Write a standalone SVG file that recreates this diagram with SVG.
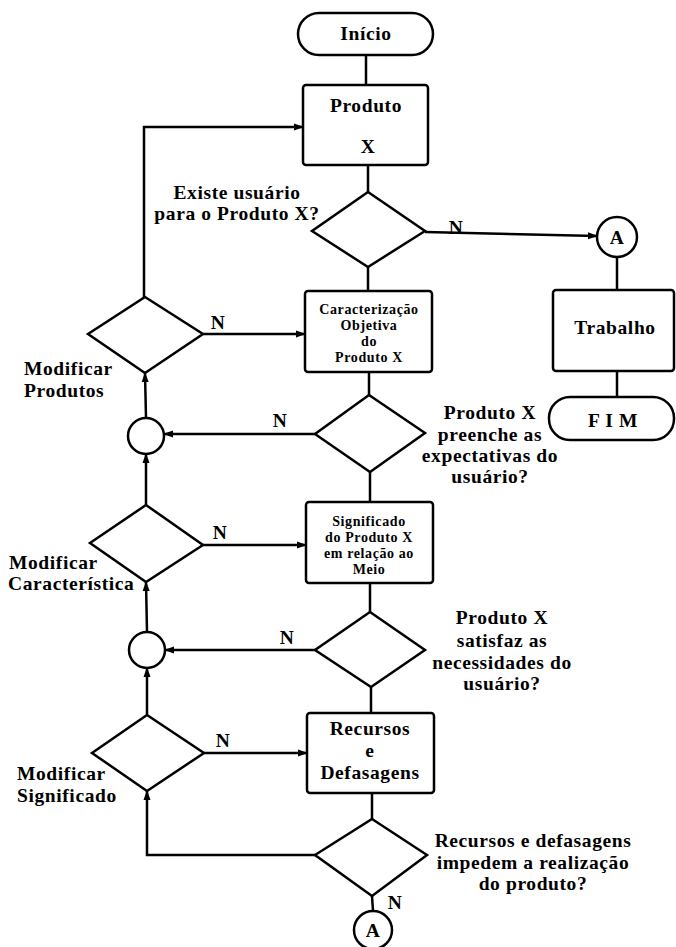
<svg xmlns="http://www.w3.org/2000/svg" width="676" height="947" viewBox="0 0 676 947" font-family="'Liberation Serif', 'DejaVu Serif', serif">
<style>
.s{fill:#fff;stroke:#000;stroke-width:2.5}
.c{fill:none;stroke:#000;stroke-width:2.5}
text{font-family:'Liberation Serif', 'DejaVu Serif', serif;font-weight:bold;fill:#000;text-anchor:middle}
.t{font-size:19.5px;letter-spacing:0.6px}
.sm{font-size:14px;letter-spacing:0.6px}
.l{text-anchor:start}
</style>
<defs>
<marker id="ar" markerUnits="userSpaceOnUse" markerWidth="10" markerHeight="8" refX="9" refY="4" orient="auto">
<path d="M0,0.5 L10,4 L0,7.5 Z" fill="#000"/>
</marker>
</defs>
<g id="connectors">
<line class="c" x1="366" y1="55" x2="366" y2="85"/>
<line class="c" x1="368" y1="165" x2="368" y2="192"/>
<line class="c" x1="368" y1="267" x2="368" y2="291"/>
<line class="c" x1="369" y1="372" x2="369" y2="395"/>
<line class="c" x1="370" y1="472" x2="370" y2="502"/>
<line class="c" x1="370" y1="583" x2="370" y2="612"/>
<line class="c" x1="371" y1="687" x2="371" y2="713"/>
<line class="c" x1="372" y1="793" x2="372" y2="819"/>
<line class="c" x1="372" y1="896" x2="373" y2="911"/>
<line class="c" x1="425" y1="232" x2="597" y2="236" marker-end="url(#ar)"/>
<line class="c" x1="617" y1="257" x2="617" y2="290"/>
<line class="c" x1="617" y1="371" x2="617" y2="397"/>
<polyline class="c" points="144,297 144,127 303,127" marker-end="url(#ar)"/>
<line class="c" x1="203" y1="334" x2="305" y2="334" marker-end="url(#ar)"/>
<line class="c" x1="315" y1="434" x2="164" y2="434" marker-end="url(#ar)"/>
<line class="c" x1="146" y1="418" x2="145" y2="373" marker-end="url(#ar)"/>
<line class="c" x1="146" y1="505" x2="146" y2="454" marker-end="url(#ar)"/>
<line class="c" x1="203" y1="545" x2="306" y2="545" marker-end="url(#ar)"/>
<line class="c" x1="315" y1="650" x2="165" y2="650" marker-end="url(#ar)"/>
<line class="c" x1="147" y1="632" x2="146" y2="582" marker-end="url(#ar)"/>
<line class="c" x1="147" y1="715" x2="147" y2="668" marker-end="url(#ar)"/>
<line class="c" x1="204" y1="753" x2="307" y2="753" marker-end="url(#ar)"/>
<polyline class="c" points="315,855 147,855 147,791" marker-end="url(#ar)"/>
<text class="t" x="456" y="234">N</text>
<text class="t" x="218" y="329">N</text>
<text class="t" x="280" y="427">N</text>
<text class="t" x="220" y="539">N</text>
<text class="t" x="287" y="644">N</text>
<text class="t" x="223" y="747">N</text>
<text class="t" x="395" y="909">N</text>
</g>
<g id="inicio">
<rect class="s" x="298" y="13" width="135" height="42" rx="21"/>
<text class="t" x="366" y="40">Início</text>
</g>
<g id="produto">
<rect class="s" x="303" y="85" width="125" height="80" rx="3"/>
<text class="t" x="366" y="112">Produto</text>
<text class="t" x="368" y="153">X</text>
</g>
<g id="existe">
<polygon class="s" points="368,192 425,231 368,267 312,231"/>
<text class="t" x="237" y="199">Existe usuário</text>
<text class="t" x="237" y="220">para o Produto X?</text>
</g>
<g id="conectorA1">
<circle class="s" cx="617" cy="237" r="20"/>
<text class="t" x="617" y="244">A</text>
</g>
<g id="trabalho">
<rect class="s" x="553" y="290" width="121" height="81" rx="3"/>
<text class="t" x="615" y="334">Trabalho</text>
</g>
<g id="fim">
<rect class="s" x="549" y="397" width="125" height="43" rx="21"/>
<text class="t" x="613" y="427">F I M</text>
</g>
<g id="caracterizacao">
<rect class="s" x="305" y="291" width="127" height="81" rx="3"/>
<text class="sm" x="369" y="314">Caracterização</text>
<text class="sm" x="369" y="330">Objetiva</text>
<text class="sm" x="369" y="346">do</text>
<text class="sm" x="369" y="362">Produto X</text>
</g>
<g id="modificar-produtos">
<polygon class="s" points="145,297 203,334 145,373 88,334"/>
<text class="t l" x="24" y="375">Modificar</text>
<text class="t l" x="24" y="397">Produtos</text>
</g>
<g id="preenche">
<polygon class="s" points="369,395 425,433 370,472 315,434"/>
<text class="t" x="490" y="419">Produto X</text>
<text class="t" x="490" y="441">preenche as</text>
<text class="t" x="490" y="462">expectativas do</text>
<text class="t" x="490" y="483">usuário?</text>
</g>
<g id="juncao1">
<circle class="s" cx="146" cy="436" r="18"/>
</g>
<g id="modificar-caracteristica">
<polygon class="s" points="146,505 203,545 146,582 90,543"/>
<text class="t l" x="9" y="569">Modificar</text>
<text class="t l" x="8" y="590">Característica</text>
</g>
<g id="significado">
<rect class="s" x="306" y="502" width="127" height="81" rx="3"/>
<text class="sm" x="369" y="526">Significado</text>
<text class="sm" x="369" y="542">do Produto X</text>
<text class="sm" x="369" y="558">em relação ao</text>
<text class="sm" x="369" y="574">Meio</text>
</g>
<g id="satisfaz">
<polygon class="s" points="370,612 425,650 371,687 315,650"/>
<text class="t" x="502" y="624">Produto X</text>
<text class="t" x="502" y="647">satisfaz as</text>
<text class="t" x="502" y="669">necessidades do</text>
<text class="t" x="502" y="690">usuário?</text>
</g>
<g id="juncao2">
<circle class="s" cx="147" cy="650" r="18"/>
</g>
<g id="modificar-significado">
<polygon class="s" points="147,715 204,753 147,791 92,753"/>
<text class="t l" x="17" y="780">Modificar</text>
<text class="t l" x="17" y="802">Significado</text>
</g>
<g id="recursos">
<rect class="s" x="307" y="713" width="127" height="80" rx="3"/>
<text class="t" x="370" y="735">Recursos</text>
<text class="t" x="370" y="757">e</text>
<text class="t" x="370" y="779">Defasagens</text>
</g>
<g id="impedem">
<polygon class="s" points="372,819 427,855 372,896 315,855"/>
<text class="t" x="533" y="847">Recursos e defasagens</text>
<text class="t" x="533" y="869">impedem a realização</text>
<text class="t" x="533" y="890">do produto?</text>
</g>
<g id="conectorA2">
<circle class="s" cx="373" cy="930" r="19"/>
<text class="t" x="373" y="937">A</text>
</g>
</svg>
